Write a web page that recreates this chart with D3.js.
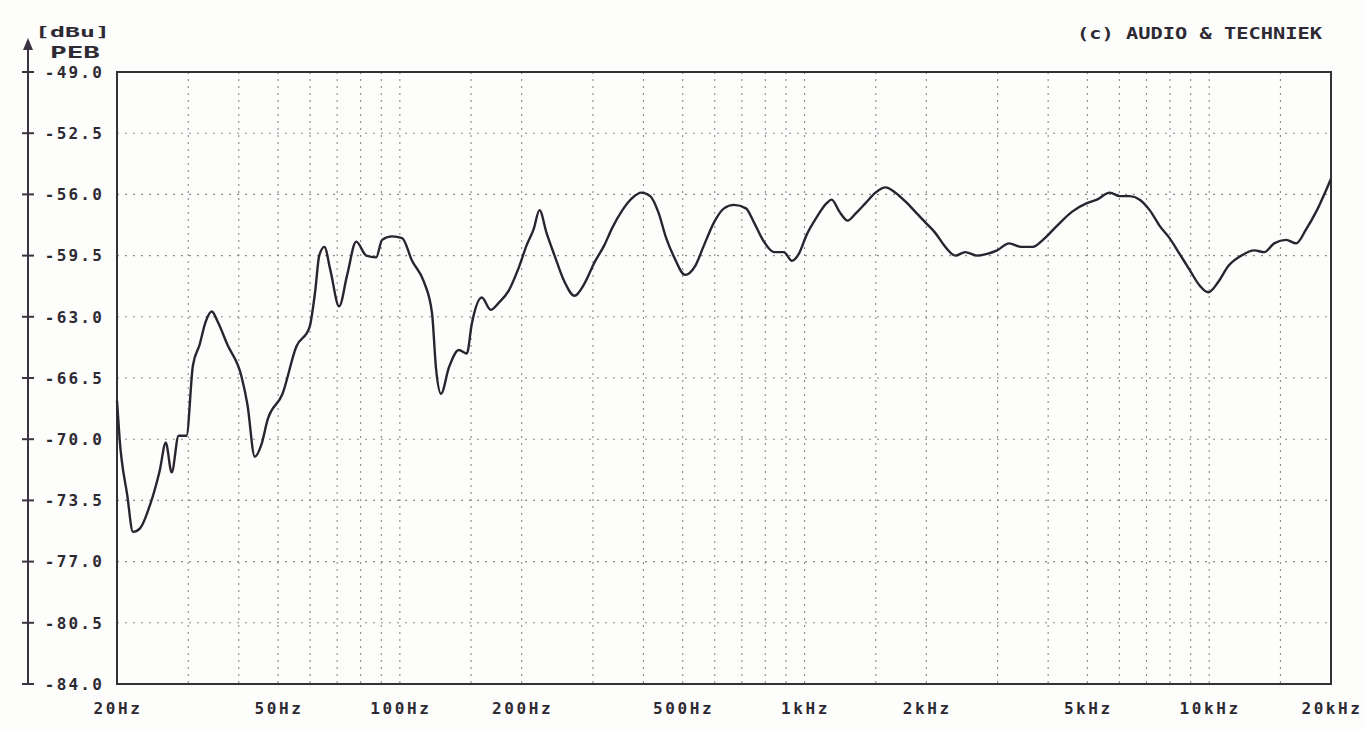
<!DOCTYPE html>
<html>
<head>
<meta charset="utf-8">
<script src="https://cdn.jsdelivr.net/npm/d3@7"></script>
<style>
  html, body { margin: 0; padding: 0; background: #fdfdfc; }
  svg { display: block; }
  text { font-family: "DejaVu Sans Mono", monospace; font-weight: bold; fill: #2e2a33; }
</style>
</head>
<body>
<svg id="chart" width="1365" height="732"></svg>
<script>
// ---------- data ----------
const freqs = [20, 20.3, 21.2, 21.9, 22.8, 24.1, 25.5, 26.4, 27.3, 28.4, 29.7, 30.8, 32.0, 33.1, 34.3, 35.5, 37.5,
  40.6, 42.0, 43.8, 45.5, 47.1, 51.3, 55.5, 59.8, 61.8, 63.2, 65.1, 67.3, 70.8, 74.1, 78.0, 82.6, 87.4, 90.4,
  95.7, 101.3, 107.2, 114.7, 120.1, 122.8, 126.4, 132.2, 139.9, 146.4, 150.6, 159.4, 167.7, 175.5, 185.8, 196.6,
  205.8, 214.0, 221.4, 230.4, 241.2, 255.2, 270.2, 285.9, 302.5, 320.2, 335.1, 354.8, 375.5, 395.0, 415.6, 435.0,
  455.2, 476.4, 506.8, 536.6, 564.6, 597.6, 632.5, 669.5, 716.6, 749.9, 793.6, 840.1, 889.2, 930.4, 968.0, 1012.6,
  1071.8, 1134.6, 1166.8, 1221, 1277.6, 1337, 1415, 1497.8, 1585, 1677.6, 1775, 1879, 1988.6, 2104, 2228, 2358,
  2496, 2672, 2827, 2992, 3202, 3428, 3669, 3884, 4205, 4578, 4986, 5279, 5680, 6012, 6365, 6735, 7127, 7544,
  7981, 8449, 8938, 9462, 9954, 10536, 11150, 12008, 12924, 13678, 14476, 15500, 16400, 17356, 18370, 20000];
const levels = [-67.8, -70.0, -73.2, -75.3, -75.1, -73.8, -71.8, -70.2, -71.9, -69.8, -69.8, -65.8, -64.6, -63.3, -62.7, -63.3, -64.6,
  -66.4, -68.0, -71.0, -70.3, -68.9, -67.4, -64.7, -63.6, -61.5, -59.5, -59.0, -60.3, -62.4, -60.6, -58.7, -59.5, -59.6, -58.6,
  -58.4, -58.5, -59.8, -61.0, -62.8, -65.9, -67.4, -65.9, -64.9, -65.1, -63.4, -61.9, -62.6, -62.2, -61.5, -60.2,
  -58.9, -58.0, -56.9, -58.2, -59.5, -61.0, -61.8, -61.1, -59.9, -58.9, -57.9, -56.9, -56.2, -55.9, -56.1, -57.0,
  -58.5, -59.6, -60.6, -60.1, -58.9, -57.6, -56.8, -56.6, -56.8, -57.6, -58.7, -59.3, -59.3, -59.8, -59.4, -58.3,
  -57.3, -56.5, -56.3, -57.0, -57.5, -57.1, -56.5, -55.9, -55.6, -55.9, -56.4, -57.0, -57.6, -58.2, -59.0, -59.5,
  -59.3, -59.5, -59.4, -59.2, -58.8, -59.0, -59.0, -58.6, -57.8, -57.0, -56.5, -56.3, -55.9, -56.1, -56.1, -56.3, -56.9, -57.8,
  -58.5, -59.4, -60.3, -61.2, -61.6, -61.0, -60.1, -59.5, -59.2, -59.3, -58.8, -58.6, -58.8, -58.0, -57.0, -55.1];

const yTicks = [-49.0, -52.5, -56.0, -59.5, -63.0, -66.5, -70.0, -73.5, -77.0, -80.5, -84.0];
const xTickFreqs = [20, 50, 100, 200, 500, 1000, 2000, 5000, 10000, 20000];
const xTickLabels = ["20Hz", "50Hz", "100Hz", "200Hz", "500Hz", "1kHz", "2kHz", "5kHz", "10kHz", "20kHz"];
const xGridFreqs = [30, 40, 50, 60, 70, 80, 90, 100, 150, 200, 300, 400, 500, 600, 700, 800, 900, 1000, 1500,
  2000, 3000, 4000, 5000, 6000, 7000, 8000, 9000, 10000, 15000];
const unitLabel = "[dBu]";
const axisName = "PEB";
const copyright = "(c) AUDIO & TECHNIEK";

// ---------- layout ----------
const L = 117, R = 1331, T = 72, B = 684;
const svg = d3.select("#chart");
const x = d3.scaleLog().domain([20, 20000]).range([L, R]);
const y = d3.scaleLinear().domain([-84, -49]).range([B, T]);

// grid
const grid = svg.append("g");
grid.selectAll("line.h").data(yTicks.slice(1, -1)).join("line")
  .attr("x1", L).attr("x2", R).attr("y1", d => y(d)).attr("y2", d => y(d))
  .attr("stroke", "#8a8a8a").attr("stroke-width", 1.1).attr("stroke-dasharray", "2,6");
grid.selectAll("line.v").data(xGridFreqs).join("line")
  .attr("x1", d => x(d)).attr("x2", d => x(d)).attr("y1", T).attr("y2", B)
  .attr("stroke", "#8a8a8a").attr("stroke-width", 1.1).attr("stroke-dasharray", "2,5");

// frame
svg.append("rect").attr("x", L).attr("y", T).attr("width", R - L).attr("height", B - T)
  .attr("fill", "none").attr("stroke", "#333036").attr("stroke-width", 2);

// left axis with arrow
const axX = 28;
const yAxis = d3.axisLeft(y).tickValues(yTicks).tickSize(0).tickFormat("");
const ag = svg.append("g").attr("transform", `translate(${axX},0)`).call(yAxis);
ag.select(".domain").remove();
ag.append("line").attr("x1", 0).attr("x2", 0).attr("y1", 44).attr("y2", B)
  .attr("stroke", "#3a3440").attr("stroke-width", 2);
ag.append("path").attr("d", "M0,38 L-5,50 L5,50 Z").attr("fill", "#3a3440");
ag.selectAll("line.tk").data(yTicks).join("line").attr("class", "tk")
  .attr("x1", -6).attr("x2", 6).attr("y1", d => y(d)).attr("y2", d => y(d))
  .attr("stroke", "#3a3440").attr("stroke-width", 2);

// y labels
svg.append("g").selectAll("text").data(yTicks).join("text")
  .attr("x", 104).attr("y", d => y(d)).attr("dy", "0.36em")
  .attr("text-anchor", "end").attr("font-size", 16).attr("letter-spacing", 2.2)
  .text(d => d.toFixed(1));

svg.append("text").attr("x", 35).attr("y", 37).attr("font-size", 14)
  .attr("textLength", 75).attr("lengthAdjust", "spacingAndGlyphs").text(unitLabel);
svg.append("text").attr("x", 50).attr("y", 58).attr("font-size", 16)
  .attr("textLength", 50).attr("lengthAdjust", "spacingAndGlyphs").text(axisName);
svg.append("text").attr("x", 1077).attr("y", 39).attr("font-size", 15)
  .attr("textLength", 245).attr("lengthAdjust", "spacingAndGlyphs").text(copyright);

// x labels
svg.append("g").selectAll("text").data(xTickFreqs).join("text")
  .attr("x", d => x(d) + 1).attr("y", 714)
  .attr("text-anchor", "middle").attr("font-size", 16).attr("letter-spacing", 2.6)
  .text((d, i) => xTickLabels[i]);

// curve
const pts = freqs.map((f, i) => [f, levels[i]]);
svg.append("path").datum(pts)
  .attr("d", d3.line().x(d => x(d[0])).y(d => y(d[1])).curve(d3.curveMonotoneX))
  .attr("fill", "none").attr("stroke", "#2a2430").attr("stroke-width", 2.4)
  .attr("stroke-linejoin", "round");
</script>
</body>
</html>
